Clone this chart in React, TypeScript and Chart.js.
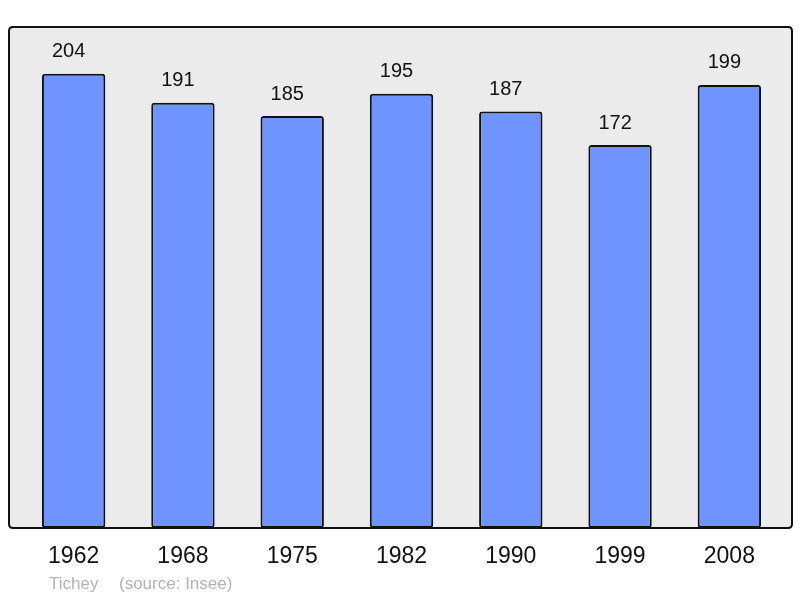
import React, { useEffect, useRef } from "react";
import { Chart, registerables } from "chart.js";

Chart.register(...registerables);

const years = ["1962", "1968", "1975", "1982", "1990", "1999", "2008"];
const population = [204, 191, 185, 195, 187, 172, 199];
const yMax = 225;
const footerName = "Tichey";
const footerSource = "(source: Insee)";

const FONT = "'Liberation Sans', Arial, sans-serif";

const decorPlugin = {
  id: "decor",
  beforeDraw(chart: any) {
    const { ctx, chartArea } = chart;
    const l = chartArea.left - 10;
    const r = chartArea.right + 8;
    const t = chartArea.top;
    const b = chartArea.bottom;
    ctx.save();
    ctx.beginPath();
    const rad = 4;
    ctx.moveTo(l + rad, t);
    ctx.lineTo(r - rad, t);
    ctx.quadraticCurveTo(r, t, r, t + rad);
    ctx.lineTo(r, b - rad);
    ctx.quadraticCurveTo(r, b, r - rad, b);
    ctx.lineTo(l + rad, b);
    ctx.quadraticCurveTo(l, b, l, b - rad);
    ctx.lineTo(l, t + rad);
    ctx.quadraticCurveTo(l, t, l + rad, t);
    ctx.closePath();
    ctx.fillStyle = "#ebebeb";
    ctx.fill();
    ctx.lineWidth = 2;
    ctx.strokeStyle = "#111";
    ctx.stroke();
    ctx.restore();
  },
  afterDatasetsDraw(chart: any) {
    const { ctx, chartArea } = chart;
    const meta = chart.getDatasetMeta(0);
    ctx.save();
    ctx.font = `20px ${FONT}`;
    ctx.fillStyle = "#111";
    ctx.textAlign = "center";
    ctx.textBaseline = "middle";
    meta.data.forEach((bar: any, i: number) => {
      ctx.fillText(String(population[i]), bar.x - 5, bar.y - 22);
    });
    ctx.font = `17px ${FONT}`;
    ctx.fillStyle = "#b3b3b3";
    ctx.textAlign = "left";
    ctx.fillText(footerName, chartArea.left + 30, chartArea.bottom + 56);
    ctx.fillText(footerSource, chartArea.left + 100, chartArea.bottom + 56);
    ctx.restore();
  },
};

export default function App() {
  const ref = useRef<HTMLCanvasElement>(null);
  useEffect(() => {
    if (!ref.current) return;
    const chart = new Chart(ref.current, {
      type: "bar",
      data: {
        labels: years,
        datasets: [
          {
            data: population,
            backgroundColor: "#7094ff",
            borderColor: "#111",
            borderWidth: 2,
            borderRadius: 3,
            borderSkipped: false,
            barPercentage: 0.58,
            categoryPercentage: 1,
          },
        ],
      },
      options: {
        animation: false,
        responsive: false,
        layout: { padding: { left: 19, right: 16, top: 27, bottom: 0 } },
        plugins: { legend: { display: false }, tooltip: { enabled: false } },
        scales: {
          x: {
            grid: { display: false, drawTicks: false },
            border: { display: false },
            ticks: { color: "#111", font: { size: 23, family: FONT }, padding: 15 },
            afterFit: (scale: any) => {
              scale.height = 70;
            },
          },
          y: {
            display: false,
            min: 0,
            max: yMax,
          },
        },
      },
      plugins: [decorPlugin],
    });
    return () => chart.destroy();
  }, []);
  return (
    <div style={{ position: "absolute", left: 0, top: 0, width: 800, height: 598, background: "#fff" }}>
      <canvas ref={ref} width={800} height={598} />
    </div>
  );
}
